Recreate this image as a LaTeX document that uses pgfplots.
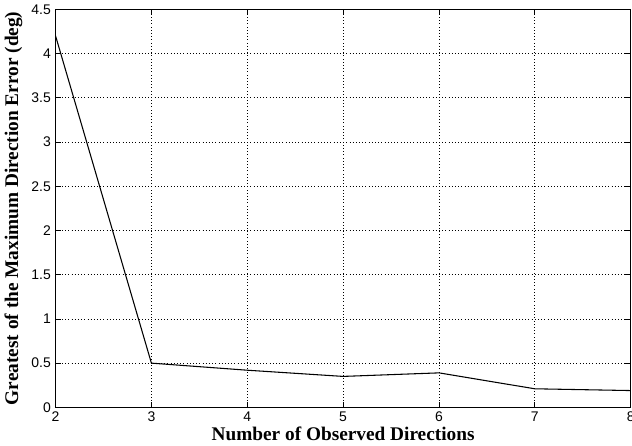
\documentclass[border=0pt]{standalone}
\usepackage{pgfplots}
\pgfplotsset{compat=1.18}
\usepackage{fontspec}
\setmainfont{Liberation Serif}
\newfontfamily\ticksf{Liberation Sans}

\begin{document}
\begin{tikzpicture}
\begin{axis}[
  name=ax,
  scale only axis,
  width=432pt, height=299pt,
  xmin=2, xmax=8,
  ymin=0, ymax=4.5,
  xtick={2,3,4,5,6,7,8},
  ytick={0,0.5,1,1.5,2,2.5,3,3.5,4,4.5},
  yticklabels={0,0.5,1,1.5,2,2.5,3,3.5,4,4.5},
  xticklabels={2,3,4,5,6,7,8},
  grid=major,
  major grid style={black, dotted, line width=0.6pt},
  tick align=inside,
  major tick length=4pt,
  axis line style={black, line width=0.9pt},
  tick style={black, line width=0.6pt},
  ticklabel style={font=\ticksf\fontsize{10.5}{12}\selectfont},
  xlabel={\bfseries\fontsize{14.5}{16}\selectfont Number of Observed Directions},
  ylabel={\bfseries\fontsize{14.5}{16}\selectfont Greatest of the Maximum Direction Error (deg)},
  xlabel style={yshift=3pt},
  ylabel style={yshift=0pt},
]
\addplot[black, line width=0.8pt] coordinates {
  (2,4.2) (3,0.5) (4,0.42) (5,0.35) (6,0.39) (7,0.21) (8,0.19)
};
\end{axis}
% the reference is cut off just past the right spine
\coordinate (bbsw) at (current bounding box.south west);
\coordinate (bbne) at (current bounding box.north east);
\pgfresetboundingbox
\useasboundingbox (bbsw) rectangle ([xshift=1pt]ax.east |- bbne);
\end{tikzpicture}
\end{document}
